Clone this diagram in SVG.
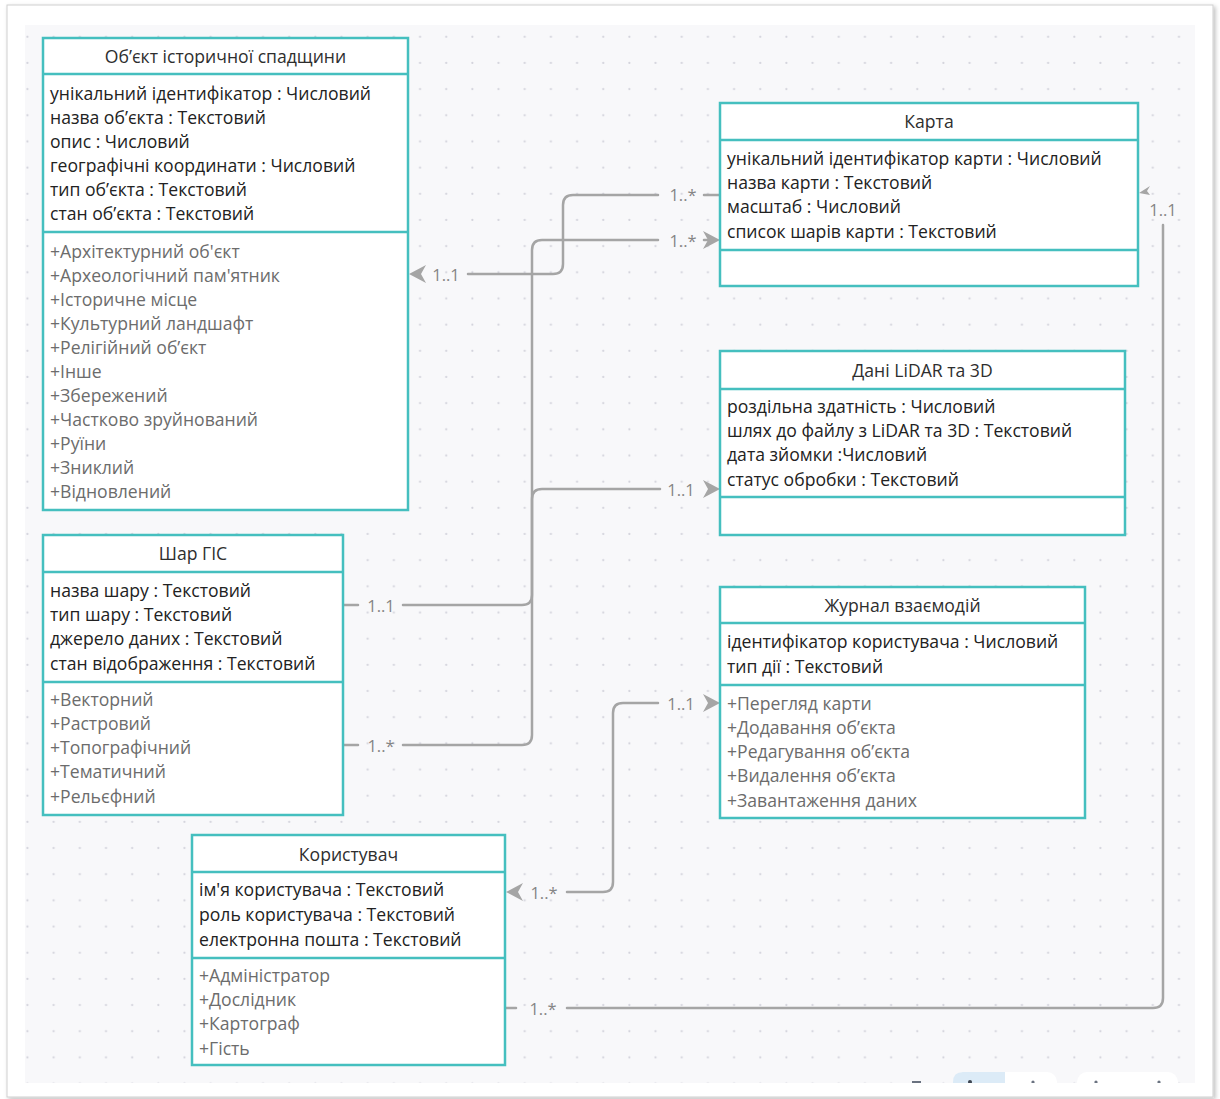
<svg xmlns="http://www.w3.org/2000/svg" width="1220" height="1099" viewBox="0 0 1220 1099">
<defs>
<style>
.box{fill:#ffffff;stroke:#45bfbf;stroke-width:2.5}
.sep{stroke:#45bfbf;stroke-width:2.5}
.hd{font-family:"Open Sans","Noto Sans",sans-serif;font-size:17.6px;fill:#2e2e2e;text-anchor:middle}
.at{font-family:"Open Sans","Noto Sans",sans-serif;font-size:17.6px;fill:#222222}
.mt{font-family:"Open Sans","Noto Sans",sans-serif;font-size:17.6px;fill:#6c6c6c}
.ln{fill:none;stroke:#a5a5a5;stroke-width:2.5;stroke-linecap:round}
.lb{font-family:"Open Sans","Noto Sans",sans-serif;font-size:16.5px;fill:#858585;text-anchor:middle}
.ah{fill:#a5a5a5}
</style>
<pattern id="dots" patternUnits="userSpaceOnUse" x="0" y="0" width="26.17" height="26.17">
<circle cx="1.32" cy="10.64" r="1.1" fill="#d3d3dc"/>
</pattern>
<clipPath id="canvasClip"><rect x="25" y="25" width="1170" height="1058"/></clipPath>
<filter id="sh" x="-5%" y="-5%" width="110%" height="110%"><feDropShadow dx="2" dy="2" stdDeviation="2" flood-color="#000" flood-opacity="0.25"/></filter>
</defs>
<rect x="0" y="0" width="1220" height="1099" fill="#ffffff"/>
<rect x="7" y="5" width="1206" height="1092" fill="#ffffff" stroke="#cfcfcf" stroke-width="1" filter="url(#sh)"/>
<rect x="25" y="25" width="1170" height="1058" fill="#f8f8fa"/>
<rect x="25" y="25" width="1170" height="1058" fill="url(#dots)"/>
<g id="toolbar" clip-path="url(#canvasClip)">
<rect x="953" y="1072" width="104" height="30" rx="10" fill="#ffffff"/>
<path d="M963 1072 H1005 V1102 H953 V1082 Q953 1072 963 1072 Z" fill="#dcebf7"/>
<rect x="1077" y="1072" width="101" height="30" rx="10" fill="#ffffff"/>
<rect x="912" y="1081" width="9" height="2" fill="#6a7280"/>
<circle cx="970" cy="1082" r="2" fill="#3c4450"/>
<circle cx="1033" cy="1082" r="1.6" fill="#6a7280"/>
<circle cx="1096" cy="1082" r="1.6" fill="#6a7280"/>
<circle cx="1159" cy="1082" r="1.6" fill="#6a7280"/>
</g>
<g id="connectors">
<path class="ah" d="M409 274 L426 265 L421 274 L426 283 Z"/>
<text class="lb" x="446" y="281">1..1</text>
<path class="ln" d="M468 274 H553 Q563 274 563 264 V205 Q563 195 573 195 H658"/>
<text class="lb" x="683" y="201">1..*</text>
<path class="ln" d="M704 195 H720"/>
<path class="ln" d="M343 605 H358"/>
<text class="lb" x="381" y="612">1..1</text>
<path class="ln" d="M403 605 H522 Q532 605 532 595 V250 Q532 240 542 240 H658"/>
<text class="lb" x="683" y="247">1..*</text>
<path class="ln" d="M704 240 H712"/>
<path class="ah" d="M720 240 L703 231 L708 240 L703 249 Z"/>
<path class="ln" d="M343 745 H358"/>
<text class="lb" x="381" y="752">1..*</text>
<path class="ln" d="M403 745 H522 Q532 745 532 735 V499 Q532 489 542 489 H660"/>
<text class="lb" x="681" y="496">1..1</text>
<path class="ah" d="M720 489 L703 480 L708 489 L703 498 Z"/>
<path class="ah" d="M720 703 L703 694 L708 703 L703 712 Z"/>
<text class="lb" x="681" y="710">1..1</text>
<path class="ln" d="M658 703 H623 Q613 703 613 713 V882 Q613 892 603 892 H567"/>
<text class="lb" x="544" y="899">1..*</text>
<path class="ah" d="M506 892 L523 883 L518 892 L523 901 Z"/>
<path class="ln" d="M505 1008 H516"/>
<text class="lb" x="543" y="1015">1..*</text>
<path class="ln" d="M567 1008 H1153 Q1163 1008 1163 998 V225"/>
<text class="lb" x="1163" y="216">1..1</text>
<path class="ah" d="M1139 193 L1150 186 L1147 191 L1150 195 Z" fill="#909090"/>
</g>
<g id="node-object">
<rect class="box" x="43" y="38" width="365" height="472"/>
<line class="sep" x1="43" y1="74" x2="408" y2="74"/>
<line class="sep" x1="43" y1="232" x2="408" y2="232"/>
<text class="hd" x="225.5" y="63">Об’єкт історичної спадщини</text>
<text class="at" x="50" y="100">унікальний ідентифікатор : Числовий</text>
<text class="at" x="50" y="124">назва об’єкта : Текстовий</text>
<text class="at" x="50" y="148">опис : Числовий</text>
<text class="at" x="50" y="172">географічні координати : Числовий</text>
<text class="at" x="50" y="196">тип об’єкта : Текстовий</text>
<text class="at" x="50" y="220">стан об’єкта : Текстовий</text>
<text class="mt" x="50" y="258">+Архітектурний об'єкт</text>
<text class="mt" x="50" y="282">+Археологічний пам'ятник</text>
<text class="mt" x="50" y="306">+Історичне місце</text>
<text class="mt" x="50" y="330">+Культурний ландшафт</text>
<text class="mt" x="50" y="354">+Релігійний об’єкт</text>
<text class="mt" x="50" y="378">+Інше</text>
<text class="mt" x="50" y="402">+Збережений</text>
<text class="mt" x="50" y="426">+Частково зруйнований</text>
<text class="mt" x="50" y="450">+Руїни</text>
<text class="mt" x="50" y="474">+Зниклий</text>
<text class="mt" x="50" y="498">+Відновлений</text>
</g>
<g id="node-map">
<rect class="box" x="720" y="103" width="418" height="183"/>
<line class="sep" x1="720" y1="140" x2="1138" y2="140"/>
<line class="sep" x1="720" y1="250" x2="1138" y2="250"/>
<text class="hd" x="929" y="128">Карта</text>
<text class="at" x="727" y="165">унікальний ідентифікатор карти : Числовий</text>
<text class="at" x="727" y="189">назва карти : Текстовий</text>
<text class="at" x="727" y="213">масштаб : Числовий</text>
<text class="at" x="727" y="238">список шарів карти : Текстовий</text>
</g>
<g id="node-lidar">
<rect class="box" x="720" y="351" width="405" height="184"/>
<line class="sep" x1="720" y1="389" x2="1125" y2="389"/>
<line class="sep" x1="720" y1="497" x2="1125" y2="497"/>
<text class="hd" x="922.5" y="377">Дані LiDAR та 3D</text>
<text class="at" x="727" y="413">роздільна здатність : Числовий</text>
<text class="at" x="727" y="437">шлях до файлу з LiDAR та 3D : Текстовий</text>
<text class="at" x="727" y="461">дата зйомки :Числовий</text>
<text class="at" x="727" y="486">статус обробки : Текстовий</text>
</g>
<g id="node-gis">
<rect class="box" x="43" y="535" width="300" height="280"/>
<line class="sep" x1="43" y1="572" x2="343" y2="572"/>
<line class="sep" x1="43" y1="682" x2="343" y2="682"/>
<text class="hd" x="193" y="560">Шар ГІС</text>
<text class="at" x="50" y="597">назва шару : Текстовий</text>
<text class="at" x="50" y="621">тип шару : Текстовий</text>
<text class="at" x="50" y="645">джерело даних : Текстовий</text>
<text class="at" x="50" y="670">стан відображення : Текстовий</text>
<text class="mt" x="50" y="706">+Векторний</text>
<text class="mt" x="50" y="730">+Растровий</text>
<text class="mt" x="50" y="754">+Топографічний</text>
<text class="mt" x="50" y="778">+Тематичний</text>
<text class="mt" x="50" y="803">+Рельєфний</text>
</g>
<g id="node-log">
<rect class="box" x="720" y="587" width="365" height="231"/>
<line class="sep" x1="720" y1="623" x2="1085" y2="623"/>
<line class="sep" x1="720" y1="685" x2="1085" y2="685"/>
<text class="hd" x="902.5" y="612">Журнал взаємодій</text>
<text class="at" x="727" y="648">ідентифікатор користувача : Числовий</text>
<text class="at" x="727" y="673">тип дії : Текстовий</text>
<text class="mt" x="727" y="710">+Перегляд карти</text>
<text class="mt" x="727" y="734">+Додавання об’єкта</text>
<text class="mt" x="727" y="758">+Редагування об’єкта</text>
<text class="mt" x="727" y="782">+Видалення об’єкта</text>
<text class="mt" x="727" y="807">+Завантаження даних</text>
</g>
<g id="node-user">
<rect class="box" x="192" y="835" width="313" height="230"/>
<line class="sep" x1="192" y1="872" x2="505" y2="872"/>
<line class="sep" x1="192" y1="958" x2="505" y2="958"/>
<text class="hd" x="348.5" y="861">Користувач</text>
<text class="at" x="199" y="896">ім'я користувача : Текстовий</text>
<text class="at" x="199" y="921">роль користувача : Текстовий</text>
<text class="at" x="199" y="946">електронна пошта : Текстовий</text>
<text class="mt" x="199" y="982">+Адміністратор</text>
<text class="mt" x="199" y="1006">+Дослідник</text>
<text class="mt" x="199" y="1030">+Картограф</text>
<text class="mt" x="199" y="1055">+Гість</text>
</g>
</svg>
